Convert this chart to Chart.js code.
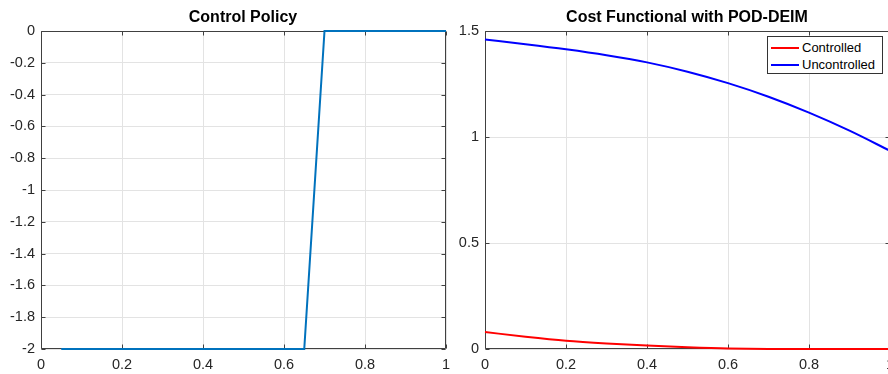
<!DOCTYPE html>
<html>
<head>
<meta charset="utf-8">
<script src="https://cdn.jsdelivr.net/npm/chart.js@4/dist/chart.umd.min.js"></script>
<style>
  html, body { margin: 0; padding: 0; background: #fff; width: 888px; height: 374px; overflow: hidden; }
  .wrap { position: absolute; top: 0; width: 486px; height: 374px; }
  #legend { position: absolute; left: 767px; top: 36px; width: 114px; height: 36px; border: 1px solid #333; background: #fff;
            font-family: "Liberation Sans", Arial, sans-serif; font-size: 13px; color: #000; }
  .row { position: absolute; left: 0; height: 16px; line-height: 16px; white-space: nowrap; }
  .sw { position: absolute; left: 3px; top: 7px; width: 28px; height: 0; border-top: 2px solid; }
  .lb { position: absolute; left: 34px; top: 0; }
</style>
</head>
<body>
<div class="wrap" style="left:0px"><canvas id="c1" width="486" height="374"></canvas></div>
<div class="wrap" style="left:444px"><canvas id="c2" width="486" height="374"></canvas></div>
<div id="legend"></div>
<script>
// ---- data ----
const policyTime = [0.05,0.10,0.15,0.20,0.25,0.30,0.35,0.40,0.45,0.50,0.55,0.60,0.65,0.70,0.75,0.80,0.85,0.90,0.95,1.00];
const policyValues = [-2,-2,-2,-2,-2,-2,-2,-2,-2,-2,-2,-2,-2,0,0,0,0,0,0,0];

const costTime = [0,0.1,0.2,0.3,0.4,0.5,0.6,0.7,0.8,0.9,1.0];
const costControlled = [0.080,0.058,0.039,0.026,0.016,0.008,0.002,0,0,0,0];
const costUncontrolled = [1.460,1.438,1.414,1.386,1.352,1.308,1.254,1.190,1.115,1.030,0.935];

const titles = ['Control Policy', 'Cost Functional with POD-DEIM'];
const seriesNames = ['Controlled', 'Uncontrolled'];
const xTicks = [0,0.2,0.4,0.6,0.8,1];

// ---- styling helpers ----
const FONT = '"Liberation Sans", Arial, Helvetica, sans-serif';
const AXIS = '#404040';
const GRID = '#e3e3e3';
const TXT = '#262626';

const boxPlugin = {
  id: 'matlabBox',
  beforeDatasetsDraw(chart) {
    const {ctx, chartArea: a, scales} = chart;
    ctx.save();
    ctx.strokeStyle = AXIS;
    ctx.lineWidth = 1;
    const L = Math.round(a.left) + 0.5, R = Math.round(a.right) - 0.5;
    const T = Math.round(a.top) + 0.5, B = Math.round(a.bottom) - 0.5;
    ctx.beginPath();
    ctx.rect(L, T, R - L, B - T);
    const tl = 4;
    scales.x.ticks.forEach(t => {
      const px = Math.round(scales.x.getPixelForValue(t.value)) + 0.5;
      ctx.moveTo(px, B); ctx.lineTo(px, B - tl);
      ctx.moveTo(px, T); ctx.lineTo(px, T + tl);
    });
    scales.y.ticks.forEach(t => {
      const py = Math.round(scales.y.getPixelForValue(t.value)) + 0.5;
      ctx.moveTo(L, py); ctx.lineTo(L + tl, py);
      ctx.moveTo(R, py); ctx.lineTo(R - tl, py);
    });
    ctx.stroke();
    ctx.restore();
  }
};

function fmt(v) { return String(+(+v).toFixed(3)); }

function makeOptions(title, yMin, yMax, yStep) {
  return {
    responsive: false,
    animation: false,
    layout: { padding: { left: 0, right: 0, top: 0, bottom: 0 } },
    plugins: {
      legend: { display: false },
      tooltip: { enabled: false },
      title: {
        display: true, text: title, color: '#000',
        font: { family: FONT, size: 16, weight: 'bold', lineHeight: 1.2 },
        padding: { top: 8, bottom: 3.8 }
      }
    },
    scales: {
      x: {
        type: 'linear', min: 0, max: 1,
        afterBuildTicks(s) { s.ticks = xTicks.map(v => ({ value: v })); },
        afterFit(s) { s.height = 25; },
        grid: { color: GRID, lineWidth: 1, drawTicks: false },
        border: { display: false },
        ticks: { color: TXT, font: { family: FONT, size: 14.5 }, padding: 7, maxRotation: 0, autoSkip: false, callback: fmt }
      },
      y: {
        type: 'linear', min: yMin, max: yMax,
        ticks: { stepSize: yStep, color: TXT, font: { family: FONT, size: 14.5 }, padding: 6, autoSkip: false, callback: fmt },
        afterFit(s) { s.width = 41; },
        grid: { color: GRID, lineWidth: 1, drawTicks: false },
        border: { display: false }
      },
      ySpacer: {
        type: 'linear', position: 'right', min: yMin, max: yMax,
        grid: { display: false, drawTicks: false },
        border: { display: false },
        ticks: { display: false },
        afterFit(s) { s.width = 40; }
      }
    }
  };
}

new Chart(document.getElementById('c1'), {
  type: 'line',
  data: {
    datasets: [{
      data: policyTime.map((t, i) => ({ x: t, y: policyValues[i] })),
      borderColor: '#0072BD', borderWidth: 2, pointRadius: 0, tension: 0, fill: false, clip: false
    }]
  },
  options: makeOptions(titles[0], -2, 0, 0.2),
  plugins: [boxPlugin]
});

const costColors = ['#ff0000', '#0000ff'];
const c2 = new Chart(document.getElementById('c2'), {
  type: 'line',
  data: {
    datasets: [
      { label: seriesNames[0], data: costTime.map((t, i) => ({ x: t, y: costControlled[i] })),
        borderColor: costColors[0], borderWidth: 2, pointRadius: 0, cubicInterpolationMode: 'monotone', fill: false, clip: false },
      { label: seriesNames[1], data: costTime.map((t, i) => ({ x: t, y: costUncontrolled[i] })),
        borderColor: costColors[1], borderWidth: 2, pointRadius: 0, cubicInterpolationMode: 'monotone', fill: false, clip: false }
    ]
  },
  options: makeOptions(titles[1], 0, 1.5, 0.5),
  plugins: [boxPlugin]
});

// legend (real DOM text)
const lg = document.getElementById('legend');
c2.data.datasets.forEach((ds, i) => {
  const row = document.createElement('div');
  row.className = 'row';
  row.style.top = (3 + i * 16.5) + 'px';
  const sw = document.createElement('span'); sw.className = 'sw'; sw.style.borderTopColor = ds.borderColor;
  const lb = document.createElement('span'); lb.className = 'lb'; lb.textContent = ds.label;
  row.appendChild(sw); row.appendChild(lb); lg.appendChild(row);
});
</script>
</body>
</html>
